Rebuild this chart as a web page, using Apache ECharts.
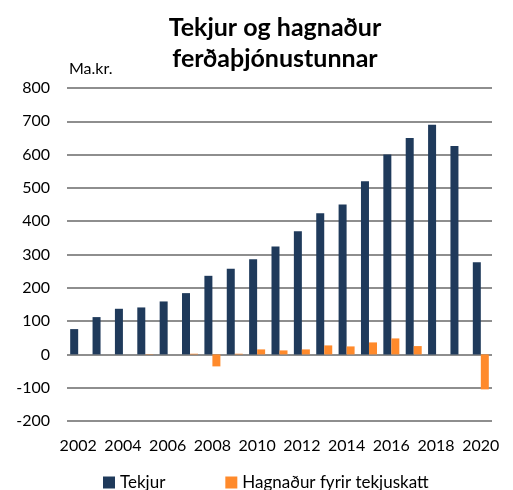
<!DOCTYPE html>
<html>
<head>
<meta charset="utf-8">
<script src="https://cdn.jsdelivr.net/npm/echarts@6/dist/echarts.min.js"></script>
<style>html,body{margin:0;padding:0;background:#fff}#c{width:513px;height:490px}</style>
</head>
<body>
<div id="c"></div>
<script>
const years = ['2002','2003','2004','2005','2006','2007','2008','2009','2010','2011','2012','2013','2014','2015','2016','2017','2018','2019','2020'];
const tekjur = [76,112,137,141,159,184,236,257,286,324,370,424,450,520,600,650,690,626,277];
const hagnadur = [0,0,0,1,0,2,-36,2,15,12,15,27,24,36,48,25,0,0,-105];
const yTicks = {min:-200, max:800, interval:100};

const chart = echarts.init(document.getElementById('c'));
const font = 'Lato, "Open Sans", sans-serif';
chart.setOption({
  animation:false,
  title:{
    text:'Tekjur og hagnaður\nferðaþjónustunnar',
    left:270, top:7, textAlign:'center',
    textStyle:{fontFamily:font, fontSize:25, fontWeight:'bold', color:'#000', lineHeight:31}
  },
  graphic:[{type:'text', left:69, top:61, style:{text:'Ma.kr.', font:'16px '+font, fill:'#000'}}],
  legend:{
    bottom:-6, left:98, itemWidth:12, itemHeight:12, itemGap:60, icon:'rect',
    textStyle:{fontFamily:font, fontSize:17, color:'#000'},
    data:['Tekjur','Hagnaður fyrir tekjuskatt']
  },
  grid:{left:67, right:21, top:88, bottom:69},
  xAxis:{
    type:'category', data:years,
    axisLine:{show:false}, axisTick:{show:false},
    axisLabel:{interval:1, fontFamily:font, fontSize:16, color:'#000', margin:17}
  },
  yAxis:{
    type:'value', min:yTicks.min, max:yTicks.max, interval:yTicks.interval,
    axisLine:{show:false}, axisTick:{show:false},
    axisLabel:{fontFamily:font, fontSize:16, color:'#000', margin:17},
    splitLine:{lineStyle:{color:'#8e8e8e', width:2}}
  },
  series:[
    {name:'Tekjur', type:'bar', data:tekjur, barWidth:8, barGap:'0%', itemStyle:{color:'#1f3a5b'}},
    {name:'Hagnaður fyrir tekjuskatt', type:'bar', data:hagnadur, barWidth:8, itemStyle:{color:'#ff8a2b'}}
  ]
});
</script>
</body>
</html>
